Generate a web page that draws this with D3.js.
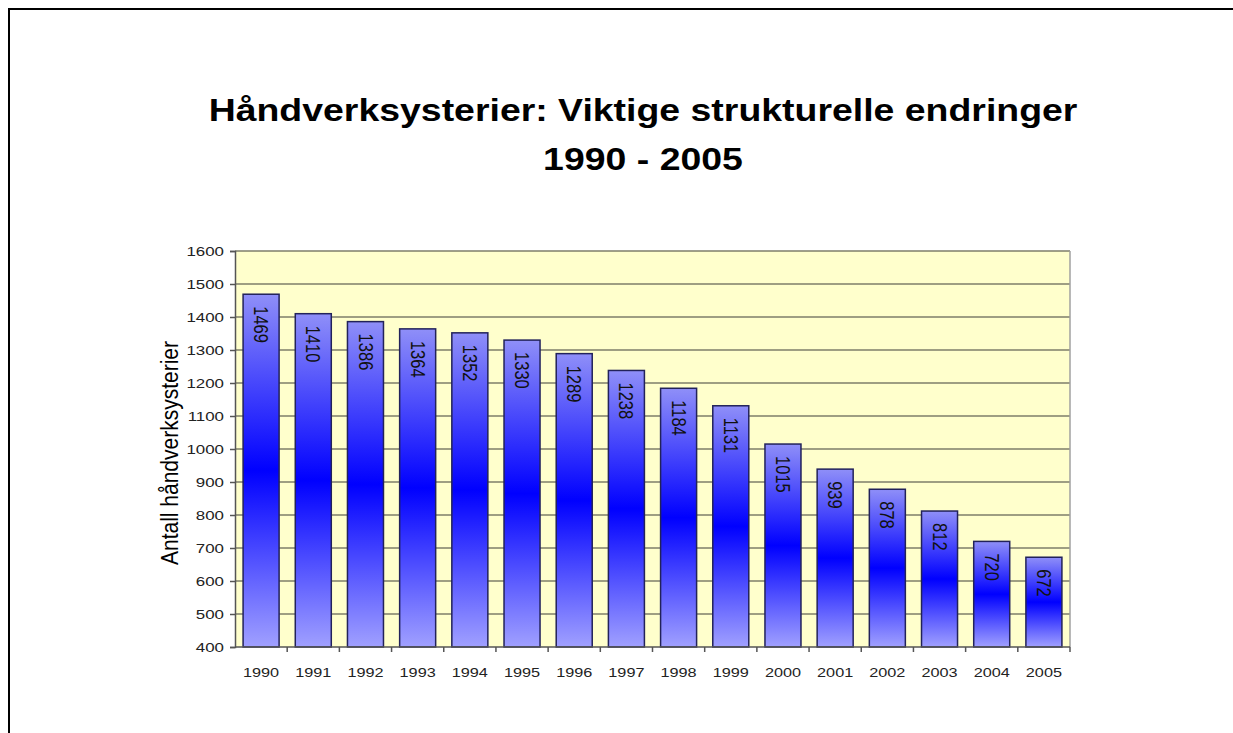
<!doctype html>
<html lang="no">
<head>
    <meta charset="UTF-8">
    <title>Håndverksysterier</title>
    <style>
        html, body { margin: 0; background: #fff; overflow: hidden; }
        svg { display: block; }
        text { font-family: Arial, "Liberation Sans", sans-serif; }
    </style>
</head>
<body>
    <svg id="chart" width="1233" height="733"></svg>
    <script src="https://d3js.org/d3.v7.min.js"></script>
    <script>
        // data
        const years = ["1990", "1991", "1992", "1993", "1994", "1995", "1996", "1997",
                       "1998", "1999", "2000", "2001", "2002", "2003", "2004", "2005"];
        const counts = [1469, 1410, 1386, 1364, 1352, 1330, 1289, 1238,
                        1184, 1131, 1015, 939, 878, 812, 720, 672];
        const yTicks = [400, 500, 600, 700, 800, 900, 1000, 1100, 1200, 1300, 1400, 1500, 1600];
        const titleLines = ["Håndverksysterier: Viktige strukturelle endringer", "1990 - 2005"];
        const yTitle = "Antall håndverksysterier";

        let plot = {left: 235, right: 1070, top: 251, bottom: 647};

        let svg = d3.select("#chart");

        // white page
        svg.append("rect").attr("width", 1233).attr("height", 733).attr("fill", "#fff");

        // page frame (top and left edges only)
        svg.append("line").attr("x1", 8).attr("x2", 1233).attr("y1", 9).attr("y2", 9)
            .attr("stroke", "#000").attr("stroke-width", 2);
        svg.append("line").attr("x1", 9).attr("x2", 9).attr("y1", 8).attr("y2", 733)
            .attr("stroke", "#000").attr("stroke-width", 2);

        // title
        titleLines.forEach(function(t, i) {
            svg.append("text")
                .attr("transform", `translate(643,${121 + i * 49}) scale(1.17,1)`)
                .attr("text-anchor", "middle")
                .attr("font-size", "32px")
                .attr("font-weight", "bold")
                .attr("fill", "#000")
                .text(t);
        });

        // scales
        let x = d3.scaleBand().domain(years).range([plot.left, plot.right]).padding(0);
        let y = d3.scaleLinear().domain([400, 1600]).range([plot.bottom, plot.top]);

        // gradient used by each bar
        let grad = svg.append("defs").append("linearGradient")
            .attr("id", "barFill")
            .attr("x1", 0).attr("y1", 0).attr("x2", 0).attr("y2", 1);
        grad.append("stop").attr("offset", "0%").attr("stop-color", "#8f8ff8");
        grad.append("stop").attr("offset", "50%").attr("stop-color", "#0000ff");
        grad.append("stop").attr("offset", "100%").attr("stop-color", "#a0a0ff");

        // plot background
        svg.append("rect")
            .attr("x", plot.left).attr("y", plot.top)
            .attr("width", plot.right - plot.left).attr("height", plot.bottom - plot.top)
            .attr("fill", "#ffffcc");

        // horizontal gridlines
        svg.append("g")
            .selectAll("line")
            .data(yTicks.filter(function(d) { return d > 400; }))
            .enter().append("line")
            .attr("x1", plot.left).attr("x2", plot.right)
            .attr("y1", function(d) { return y(d); })
            .attr("y2", function(d) { return y(d); })
            .attr("stroke", "#7e7e6a")
            .attr("stroke-width", 1.5);

        // right edge of the plot
        svg.append("line")
            .attr("x1", plot.right).attr("x2", plot.right)
            .attr("y1", plot.top).attr("y2", plot.bottom)
            .attr("stroke", "#a0a0a0").attr("stroke-width", 1.5);

        // bars
        let barW = x.bandwidth() * 0.69;
        svg.append("g")
            .selectAll("rect")
            .data(counts)
            .enter().append("rect")
            .attr("x", function(d, i) { return x(years[i]) + (x.bandwidth() - barW) / 2; })
            .attr("y", function(d) { return y(d); })
            .attr("width", barW)
            .attr("height", function(d) { return y(400) - y(d); })
            .attr("fill", "url(#barFill)")
            .attr("stroke", "#22225a")
            .attr("stroke-width", 1.5);

        // value labels, turned to read downwards
        svg.append("g")
            .selectAll("text")
            .data(counts)
            .enter().append("text")
            .attr("transform", function(d, i) {
                return `translate(${x(years[i]) + x.bandwidth() / 2},${y(d) + 12}) rotate(90) scale(1,1.2)`;
            })
            .attr("dy", "0.35em")
            .attr("font-size", "16.5px")
            .attr("fill", "#111")
            .text(function(d) { return d; });

        // y axis: line and ticks from d3, labels drawn wider like the picture
        let yAxis = svg.append("g")
            .attr("transform", `translate(${plot.left},0)`)
            .call(d3.axisLeft(y).tickValues(yTicks).tickSize(5).tickFormat(""));
        yAxis.select(".domain").attr("stroke", "#555").attr("stroke-width", 1.5);
        yAxis.selectAll(".tick line").attr("stroke", "#555").attr("stroke-width", 1.5);
        svg.append("g")
            .selectAll("text")
            .data(yTicks)
            .enter().append("text")
            .attr("transform", function(d) { return `translate(${plot.left - 11},${y(d)}) scale(1.3,1)`; })
            .attr("dy", "0.35em")
            .attr("text-anchor", "end")
            .attr("font-size", "13px")
            .attr("fill", "#222")
            .text(function(d) { return d; });

        // x axis: ticks sit between the categories
        let xAxis = svg.append("g")
            .attr("transform", `translate(0,${plot.bottom})`);
        xAxis.append("line")
            .attr("x1", plot.left).attr("x2", plot.right)
            .attr("stroke", "#555").attr("stroke-width", 1.5);
        xAxis.selectAll(".tk")
            .data(years)
            .enter().append("line")
            .attr("class", "tk")
            .attr("x1", function(d) { return x(d) + x.bandwidth(); })
            .attr("x2", function(d) { return x(d) + x.bandwidth(); })
            .attr("y1", 0).attr("y2", 5)
            .attr("stroke", "#555").attr("stroke-width", 1.5);
        xAxis.selectAll(".lbl")
            .data(years)
            .enter().append("text")
            .attr("class", "lbl")
            .attr("transform", function(d) { return `translate(${x(d) + x.bandwidth() / 2},30) scale(1.25,1)`; })
            .attr("text-anchor", "middle")
            .attr("font-size", "13px")
            .attr("fill", "#222")
            .text(function(d) { return d; });

        // y axis title
        svg.append("text")
            .attr("transform", `translate(178,${(plot.top + plot.bottom) / 2 + 4}) rotate(-90) scale(1,1.15)`)
            .attr("text-anchor", "middle")
            .attr("font-size", "21px")
            .attr("fill", "#000")
            .text(yTitle);
    </script>
</body>
</html>
